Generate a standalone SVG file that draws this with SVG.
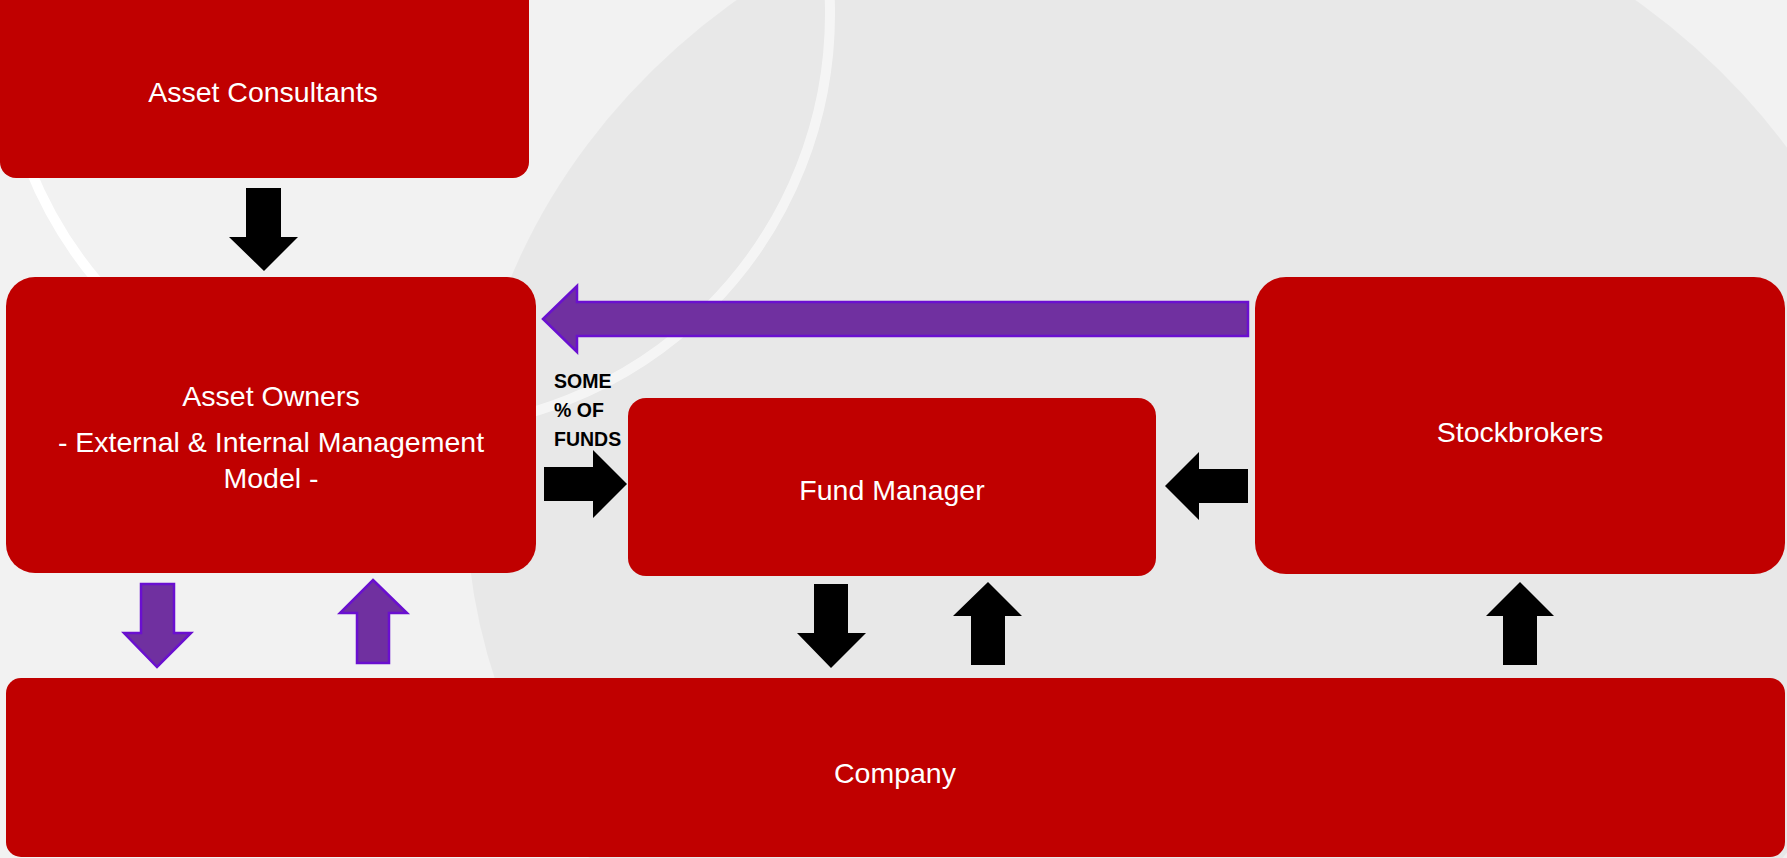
<svg xmlns="http://www.w3.org/2000/svg" width="1787" height="858" viewBox="0 0 1787 858">
<style>
.box{fill:#c00000;}
.lbl{font-family:"Liberation Sans",Arial,sans-serif;font-size:28.5px;fill:#ffffff;text-anchor:middle;}
.note{font-family:"Liberation Sans",Arial,sans-serif;font-size:19.5px;font-weight:bold;fill:#000000;}
.blk{fill:#000000;}
.pur{fill:#7030a0;stroke:#6a0fd0;stroke-width:2.5;stroke-linejoin:miter;}
</style>
<g id="background">
<rect x="0" y="0" width="1787" height="858" fill="#f2f2f2"/>
<circle cx="415" cy="14" r="415" fill="none" stroke="#ffffff" stroke-width="10"/>
<ellipse cx="1186" cy="500" rx="720" ry="640" fill="#000000" fill-opacity="0.04"/>
</g>
<g id="connectors">
<polygon class="blk" points="246,188 281,188 281,237 298,237 264,271 229,237 246,237"/>
<polygon class="pur" points="543,319 577,286 577,302 1248,302 1248,336 577,336 577,352"/>
<polygon class="blk" points="544,467 593,467 593,450 627,484 593,518 593,501 544,501"/>
<polygon class="blk" points="1165,486 1199,452 1199,469 1248,469 1248,503 1199,503 1199,520"/>
<polygon class="pur" points="141,584 174,584 174,633 191,633 157,667 124,633 141,633"/>
<polygon class="pur" points="373,580 407,613 389,613 389,663 357,663 357,613 340,613"/>
<polygon class="blk" points="814,584 848,584 848,633 866,633 831,668 797,633 814,633"/>
<polygon class="blk" points="988,582 1022,616 1005,616 1005,665 971,665 971,616 953,616"/>
<polygon class="blk" points="1520,582 1554,616 1537,616 1537,665 1503,665 1503,616 1486,616"/>
<text class="note" x="554" y="388">SOME</text>
<text class="note" x="554" y="417">% OF</text>
<text class="note" x="554" y="446">FUNDS</text>
</g>
<g id="asset-consultants">
<rect class="box" x="0" y="-20" width="529" height="198" rx="16"/>
<text class="lbl" x="263" y="102">Asset Consultants</text>
</g>
<g id="asset-owners">
<rect class="box" x="6" y="277" width="530" height="296" rx="29"/>
<text class="lbl" x="271" y="406">Asset Owners</text>
<text class="lbl" x="271" y="452">- External &amp; Internal Management</text>
<text class="lbl" x="271" y="488">Model -</text>
</g>
<g id="fund-manager">
<rect class="box" x="628" y="398" width="528" height="178" rx="18"/>
<text class="lbl" x="892" y="500">Fund Manager</text>
</g>
<g id="stockbrokers">
<rect class="box" x="1255" y="277" width="530" height="297" rx="31"/>
<text class="lbl" x="1520" y="442">Stockbrokers</text>
</g>
<g id="company">
<rect class="box" x="6" y="678" width="1779" height="179" rx="15"/>
<text class="lbl" x="895" y="783">Company</text>
</g>
</svg>
